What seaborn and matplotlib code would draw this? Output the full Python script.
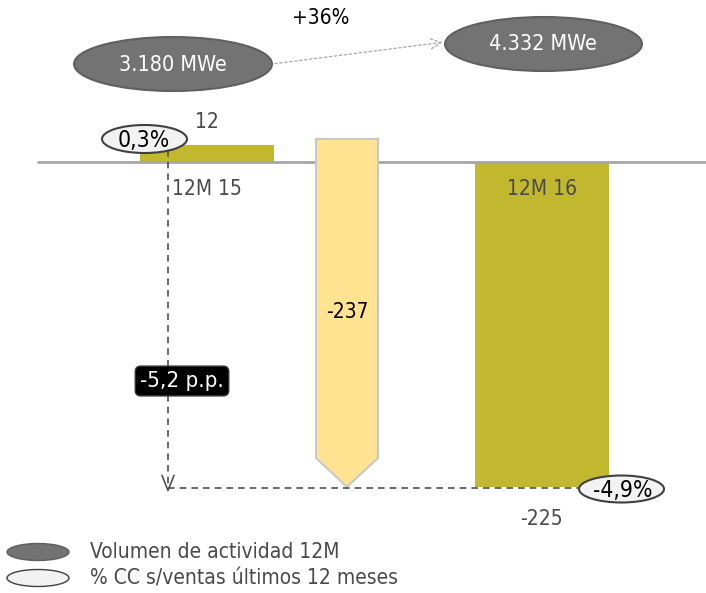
import numpy as np
import pandas as pd
import matplotlib
matplotlib.use("Agg")
import matplotlib.pyplot as plt
from matplotlib.patches import Ellipse, Polygon
import seaborn as sns

# ---- data ----
categories = ["12M 15", "Variación", "12M 16"]
values = [12, -237, -225]
pct_labels = ["0,3%", "-4,9%"]
volume_labels = ["3.180 MWe", "4.332 MWe"]
growth_label = "+36%"
delta_label = "-5,2 p.p."
legend_labels = ["Volumen de actividad 12M", "% CC s/ventas últimos 12 meses"]

sns.set_theme(style="white")
plt.rcParams["font.family"] = ["DejaVu Sans"]
plt.rcParams["font.stretch"] = "condensed"

OLIVE = "#C2B830"
YELLOW = "#FFE391"
GRAY_TXT = "#4a4a4a"
FS = 15

fig = plt.figure(figsize=(7.06, 5.93), dpi=100)
ax = fig.add_axes([0, 0, 1, 1])

df = pd.DataFrame({"cat": [categories[0], categories[2]],
                   "val": [values[0], values[2]]})
sns.barplot(data=df, x="cat", y="val", order=categories, color=OLIVE,
            saturation=1, width=0.8, ax=ax, errorbar=None)
for p in ax.patches:
    p.set_edgecolor("none")

# pixel-to-data helpers (layout only)
PX_X = 167.5
PX_Y = 1.444
def dx(px):
    return (px - 206.5) / PX_X
def dy(py):
    return (162 - py) / PX_Y

ax.set_xlim(dx(0), dx(706))
ax.set_ylim(dy(593), dy(0))
ax.axis("off")

def T(x, y, s, **kw):
    kw.setdefault("fontsize", FS)
    kw.setdefault("fontstretch", "condensed")
    return ax.text(x, y, s, **kw)

# baseline
ax.plot([dx(38), dx(706)], [0, 0], color="#a6a6a6", lw=2, zorder=1)

# yellow variation arrow
start = values[0]
end = values[0] + values[1]
xc = dx(347)
hw = 62 / PX_X / 2
tip = 20
poly = Polygon([(xc - hw, start + 4), (xc + hw, start + 4), (xc + hw, end + tip),
                (xc, end), (xc - hw, end + tip)], closed=True,
               facecolor=YELLOW, edgecolor="#c8c8c8", lw=1.5, zorder=2)
ax.add_patch(poly)
T(xc, -104, f"{values[1]}", ha="center", va="center", color="black")

# bar value labels
T(0, 28, f"{values[0]}", ha="center", va="center", color=GRAY_TXT)
T(2, values[2] - 22, f"{values[2]}", ha="center", va="center", color=GRAY_TXT)
T(dx(172), -19, categories[0], ha="left", va="center", color=GRAY_TXT)
T(2, -19, categories[2], ha="center", va="center", color=GRAY_TXT)

# dashed connectors
vx = dx(168)
ax.plot([vx, vx], [8, end - 1], color="#505050", lw=1.2, ls=(0, (4, 3)), zorder=3)
ax.plot([vx, dx(585)], [end - 1, end - 1], color="#505050", lw=1.2, ls=(0, (4, 3)), zorder=3)
ax.plot([vx - 6 / PX_X, vx, vx + 6 / PX_X], [end + 8, end - 2.5, end + 8],
        color="#505050", lw=1.2, zorder=3)

# -5,2 p.p. box
T(dx(182), dy(381), delta_label, ha="center", va="center", fontsize=16,
  color="white", zorder=5,
  bbox=dict(boxstyle="round,pad=0.22,rounding_size=0.25", fc="black", ec="#333333"))

# percentage ellipses
def ell(cx, cy, wpx, hpx, fc, ec, lw=1.5, z=4):
    e = Ellipse((cx, cy), wpx / PX_X, hpx / PX_Y, facecolor=fc, edgecolor=ec, lw=lw, zorder=z)
    ax.add_patch(e)

ell(dx(144.5), dy(139), 85, 28, "#f2f2f2", "#404040")
T(dx(143.5), dy(140), pct_labels[0], ha="center", va="center", fontsize=16.5,
  color="black", zorder=5)
ell(dx(621.5), dy(489), 85, 27, "#f2f2f2", "#404040")
T(dx(623), dy(491), pct_labels[1], ha="center", va="center", fontsize=16.5,
  color="black", zorder=5)

# volume ellipses
ell(dx(173), dy(64), 198, 54, "#737373", "#606060")
T(dx(172.5), dy(65), volume_labels[0], ha="center", va="center", fontsize=15.5,
  color="white", zorder=5)
ell(dx(543.5), dy(44), 197, 54, "#737373", "#606060")
T(dx(542.5), dy(44), volume_labels[1], ha="center", va="center", fontsize=15.5,
  color="white", zorder=5)
ax.annotate("", xy=(dx(445), dy(42)), xytext=(dx(272), dy(64)),
            arrowprops=dict(arrowstyle="->", color="#a8a8a8", lw=0.9, ls=(0, (2, 2)),
                            mutation_scale=18), zorder=3)
T(dx(321), dy(18), growth_label, ha="center", va="center", color="black")

# legend
ell(dx(38), dy(552), 62, 17, "#737373", "#606060", lw=1)
T(dx(90), dy(552), legend_labels[0], ha="left", va="center", color=GRAY_TXT)
ell(dx(38), dy(578), 62, 17, "#f2f2f2", "#404040", lw=1)
T(dx(90), dy(578), legend_labels[1], ha="left", va="center", color=GRAY_TXT)

fig.savefig("out.png", dpi=100)
